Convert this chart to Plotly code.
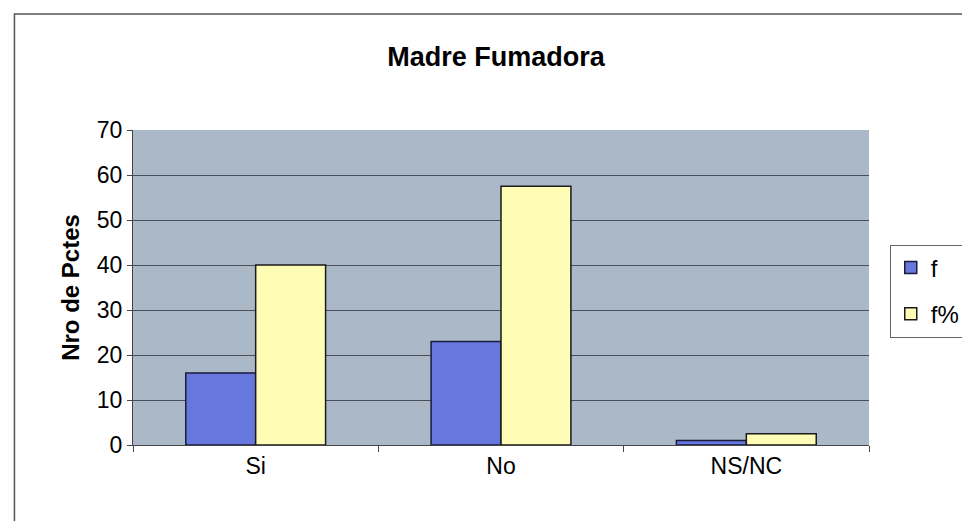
import plotly.graph_objects as go

categories = ["Si", "No", "NS/NC"]
f_values = [16, 23, 1]
fpct_values = [40, 57.5, 2.5]
y_ticks = [0, 10, 20, 30, 40, 50, 60, 70]

fig = go.Figure()
fig.add_trace(go.Bar(name="f", x=categories, y=f_values, legendgroup="a",
                     marker=dict(color="#6677dd", line=dict(color="#1a1a3a", width=1.5))))
fig.add_trace(go.Bar(name="f%", x=categories, y=fpct_values, legendgroup="b",
                     marker=dict(color="#fffcb5", line=dict(color="#1a1a1a", width=1.5))))

# page body has an 8px offset; margins are compensated so the plot area lands at screen x 133-878, y 130-445
fig.update_layout(
    width=970, height=521,
    margin=dict(l=125, r=100, t=122, b=84),
    paper_bgcolor="white",
    plot_bgcolor="#aab8c8",
    barmode="group", bargap=0.43, bargroupgap=0,
    font=dict(family="Liberation Sans, Arial, sans-serif", color="black"),
    title=dict(text="<b>Madre Fumadora</b>", x=(496 - 8) / 970, xanchor="center",
               y=1 - (57 - 8) / 521, yanchor="middle", yref="container",
               font=dict(size=27)),
    showlegend=True,
    legend=dict(x=(899 - 133) / 745, y=(445 - 291) / 315, xanchor="left", yanchor="middle",
                bordercolor="#666", borderwidth=1, bgcolor="white",
                font=dict(size=24), traceorder="grouped", tracegroupgap=12),
    xaxis=dict(showgrid=False, showline=True, linecolor="#444", linewidth=1,
               ticks="outside", tickson="boundaries", ticklen=6, tickcolor="#444",
               tickfont=dict(size=23), mirror=False),
    yaxis=dict(range=[0, 70], tickvals=y_ticks, showgrid=True, gridcolor="#4a4f58",
               gridwidth=1, showline=True, linecolor="#444", ticks="outside",
               ticklen=5, tickcolor="#444", tickfont=dict(size=23),
               title=dict(text="<b>Nro de Pctes</b>", font=dict(size=24), standoff=10),
               zeroline=False),
)

fig.add_shape(type="rect", xref="paper", yref="paper",
              x0=(13 - 133) / 745, x1=(975 - 133) / 745,
              y0=(445 - 540) / 315, y1=(445 - 14) / 315,
              line=dict(color="#555", width=1.5), fillcolor="rgba(0,0,0,0)", layer="below")

fig.write_html("out.html")
